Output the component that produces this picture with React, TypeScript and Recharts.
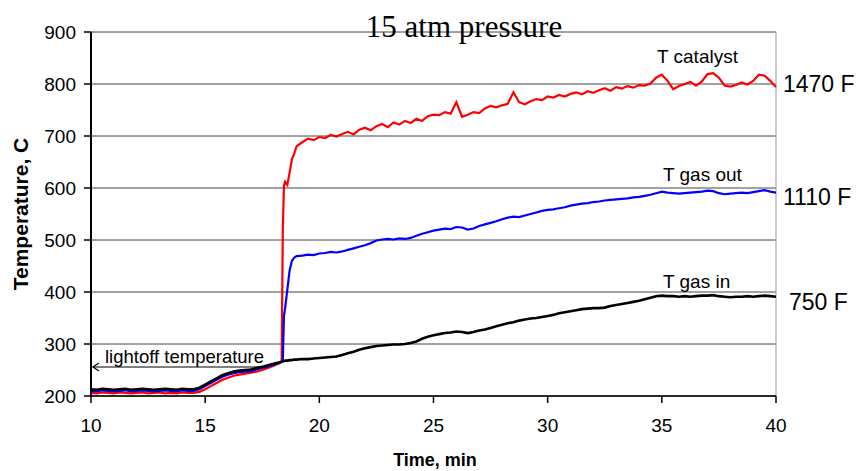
import { LineChart, Line, XAxis, YAxis, CartesianGrid, ReferenceLine } from "recharts";

// time, min
const TIME = [
  10, 10.25, 10.5, 10.75, 11, 11.25, 11.5, 11.75, 12, 12.25, 12.5, 12.75, 13, 13.25, 13.5, 13.75,
  14, 14.25, 14.5, 14.75, 15, 15.25, 15.5, 15.75, 16, 16.25, 16.5, 16.75, 17, 17.25, 17.5, 17.75,
  18, 18.25,
  18.35, 18.4, 18.45, 18.5, 18.6, 18.7, 18.8, 18.9, 19,
  19.25, 19.5, 19.75, 20, 20.25, 20.5, 20.75, 21, 21.25, 21.5, 21.75, 22,
  22.25, 22.5, 22.75, 23, 23.25, 23.5, 23.75, 24, 24.25, 24.5, 24.75, 25,
  25.25, 25.5, 25.75, 26, 26.25, 26.5, 26.75, 27, 27.25, 27.5, 27.75, 28,
  28.25, 28.5, 28.75, 29, 29.25, 29.5, 29.75, 30, 30.25, 30.5, 30.75, 31,
  31.25, 31.5, 31.75, 32, 32.25, 32.5, 32.75, 33, 33.25, 33.5, 33.75, 34,
  34.25, 34.5, 34.75, 35, 35.25, 35.5, 35.75, 36, 36.25, 36.5, 36.75, 37,
  37.25, 37.5, 37.75, 38, 38.25, 38.5, 38.75, 39, 39.25, 39.5, 39.75, 40,
];

const T_CATALYST = [
  206, 205, 207, 206, 205, 207, 206, 205, 206, 207, 205, 206, 207, 205, 206, 205,
  207, 206, 206, 208, 213, 219, 225, 231, 235, 239, 241, 243, 245, 247, 250, 254,
  258, 263,
  266, 520, 604, 612, 606, 630, 655, 666, 680,
  688, 695, 692, 698, 696, 702, 699, 704, 708, 703, 712, 716,
  711, 719, 723, 717, 726, 722, 729, 725, 733, 729, 738, 741,
  740, 746, 743, 765, 737, 741, 746, 744, 753, 758, 755, 759,
  762, 784, 765, 761, 767, 771, 769, 776, 774, 779, 776, 781,
  784, 780, 786, 783, 788, 792, 787, 794, 791, 796, 793, 798,
  797, 801, 812, 818, 806, 790, 796, 800, 804, 797, 805, 819,
  821, 812, 797, 795, 798, 803, 799, 806, 818, 816, 806, 794,
];

const T_GAS_OUT = [
  210, 209, 211, 210, 209, 210, 211, 209, 210, 211, 210, 209, 210, 211, 210, 209,
  211, 210, 210, 213, 219, 225, 231, 237, 241, 244, 246, 247, 248, 251, 254, 257,
  260, 264,
  266, 268, 354, 368, 405, 442, 460, 466, 469,
  470, 472, 471, 474, 475, 477, 476, 478, 481, 484, 487, 490,
  494, 499, 501, 502, 501, 503, 502, 504, 508, 512, 515, 518,
  520, 522, 521, 525, 524, 520, 522, 527, 530, 533, 536, 540,
  543, 545, 544, 547, 550, 553, 556, 558, 559, 561, 563, 566,
  568, 570, 571, 573, 574, 576, 577, 578, 579, 580, 582, 583,
  585, 587, 590, 593, 591, 590, 589, 590, 591, 592, 593, 595,
  594, 590, 588, 589, 590, 591, 590, 592, 594, 596, 593, 591,
];

const T_GAS_IN = [
  213, 212, 214, 213, 212, 213, 214, 212, 213, 214, 213, 212, 213, 214, 213, 212,
  214, 213, 213, 216, 222, 228, 234, 240, 244, 247, 249, 250, 251, 254, 256, 259,
  262, 265,
  266, 267, 267, 268, 268, 269, 269, 270, 270,
  271, 271, 272, 273, 274, 275, 276, 279, 282, 285, 289, 292,
  294, 296, 297, 298, 299, 299, 300, 302, 305, 310, 314, 317,
  319, 321, 322, 324, 323, 321, 323, 326, 328, 331, 334, 337,
  340, 342, 345, 347, 349, 350, 352, 354, 356, 359, 361, 363,
  365, 367, 368, 369, 369, 370, 373, 375, 377, 379, 381, 383,
  386, 389, 392, 393, 392, 392, 391, 392, 391, 392, 393, 393,
  394, 392, 391, 390, 391, 391, 392, 391, 392, 393, 392, 391,
];

const X_TICKS = [10, 15, 20, 25, 30, 35, 40];
const Y_TICKS = [200, 300, 400, 500, 600, 700, 800, 900];

const data = TIME.map((t, i) => ({
  t,
  cat: T_CATALYST[i],
  out: T_GAS_OUT[i],
  in: T_GAS_IN[i],
}));

const FONT = "'Liberation Sans', Arial, sans-serif";

const XTick = ({ x, y, payload }: any) => (
  <text x={x} y={y} dy={27} textAnchor="middle" fontFamily={FONT} fontSize={19} fill="#000">
    {payload.value}
  </text>
);

const YTick = ({ x, y, payload }: any) => (
  <text x={x} y={y} dy={6.8} textAnchor="end" fontFamily={FONT} fontSize={19} fill="#000">
    {payload.value}
  </text>
);

export default function App() {
  return (
    <div style={{ position: "absolute", left: 0, top: 0, width: 861, height: 471, background: "#fff" }}>
      <LineChart width={861} height={471} data={data} margin={{ top: 32, right: 85, bottom: 45, left: 0 }}>
        <CartesianGrid vertical={false} stroke="#444" strokeWidth={1} />
        <ReferenceLine x={40} stroke="#999" strokeWidth={1} />
        <XAxis
          dataKey="t"
          type="number"
          domain={[10, 40]}
          ticks={X_TICKS}
          height={30}
          tickSize={7}
          tickMargin={2}
          tick={<XTick />}
          axisLine={{ stroke: "#000", strokeWidth: 1.5 }}
          tickLine={{ stroke: "#000", strokeWidth: 1.5 }}
        />
        <YAxis
          type="number"
          domain={[200, 900]}
          ticks={Y_TICKS}
          width={91}
          tickSize={7}
          tickMargin={8}
          tick={<YTick />}
          axisLine={{ stroke: "#000", strokeWidth: 2 }}
          tickLine={{ stroke: "#000", strokeWidth: 1.5 }}
        />
        <Line dataKey="cat" stroke="#ff0000" strokeWidth={2.2} dot={false} isAnimationActive={false} />
        <Line dataKey="out" stroke="#0000ff" strokeWidth={2.2} dot={false} isAnimationActive={false} />
        <Line dataKey="in" stroke="#000000" strokeWidth={2.6} dot={false} isAnimationActive={false} />
      </LineChart>
      <svg
        width={861}
        height={471}
        style={{ position: "absolute", left: 0, top: 0, pointerEvents: "none" }}
      >
        <text x={464} y={37} textAnchor="middle" fontFamily="'Liberation Serif', 'Times New Roman', serif" fontSize={31}>
          15 atm pressure
        </text>
        <text
          transform="translate(28,214) rotate(-90)"
          textAnchor="middle"
          fontFamily={FONT}
          fontSize={21}
          fontWeight="bold"
        >
          Temperature, C
        </text>
        <text x={435} y={466} textAnchor="middle" fontFamily={FONT} fontSize={18} fontWeight="bold">
          Time, min
        </text>

        <g fontFamily={FONT} fontSize={19}>
          <text x={657} y={63}>T catalyst</text>
          <text x={663} y={181}>T gas out</text>
          <text x={663} y={288}>T gas in</text>
        </g>
        <g fontFamily={FONT} fontSize={23}>
          <text x={783} y={92}>1470 F</text>
          <text x={783} y={205}>1110 F</text>
          <text x={789} y={310}>750 F</text>
        </g>

        <text x={105} y={363} fontFamily={FONT} fontSize={18.5}>
          lightoff temperature
        </text>
        <line x1={93} y1={367} x2={264} y2={367} stroke="#000" strokeWidth={1.2} />
        <path d="M99,363 L93,367 L99,371" fill="none" stroke="#000" strokeWidth={1.2} />
      </svg>
    </div>
  );
}
